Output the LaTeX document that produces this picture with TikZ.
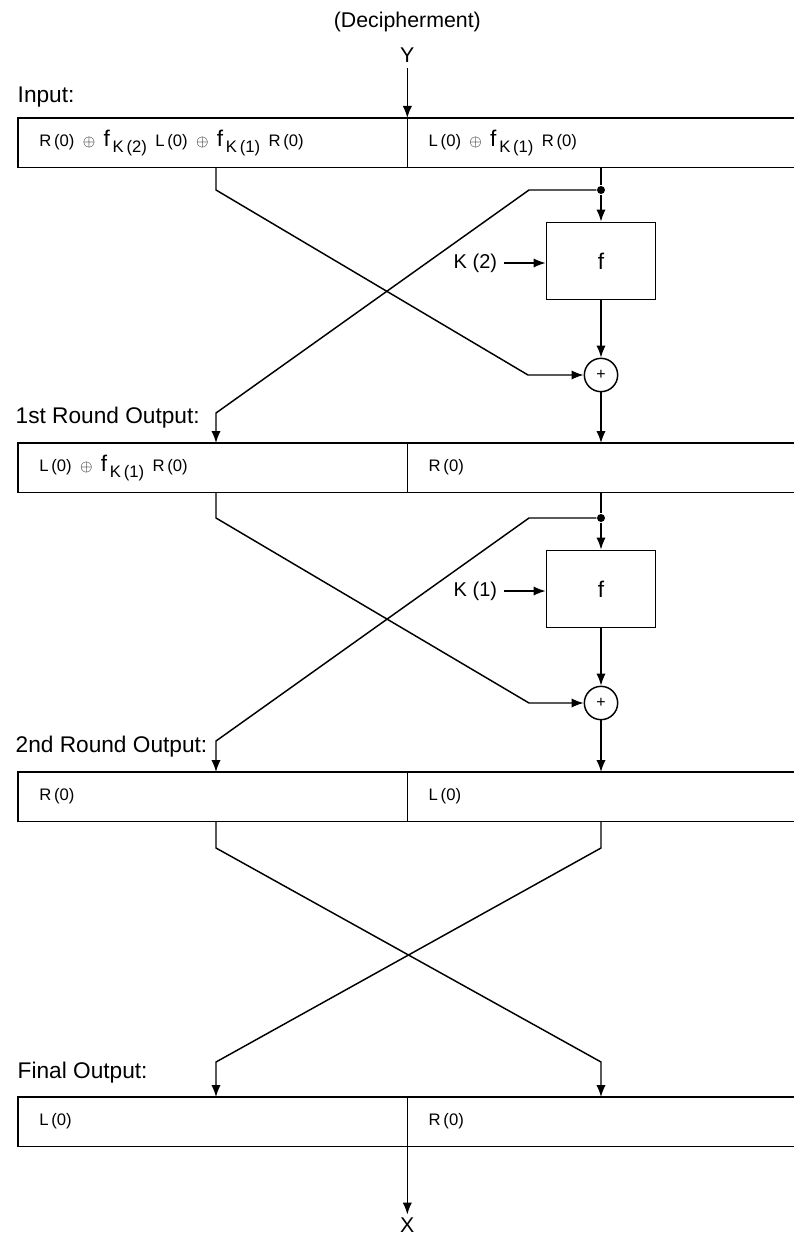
\documentclass[tikz,border=0pt]{standalone}
\usepackage{fontspec}
\setmainfont{Liberation Sans}
\usetikzlibrary{arrows.meta,calc}
\newcommand{\fk}[1]{{\fontsize{17}{17}\selectfont f}\,\raisebox{-4.5pt}{\fontsize{12.5}{13}\selectfont K\,(#1)}}
\newcommand{\xo}{\enspace$\oplus$\enspace}

\begin{document}
\begin{tikzpicture}[x=0.75pt,y=-0.75pt,>={Latex[length=9pt,width=7pt]},line width=1.1pt,
  half/.style={draw,anchor=north west,minimum height=37pt,inner xsep=16pt,outer sep=0pt,
    text width=#1,align=left,font=\fontsize{12.5}{14}\selectfont},
  half/.default=260pt,
  rlbl/.style={anchor=west,inner sep=0pt,font=\fontsize{17}{20}\selectfont},
  fbox/.style={draw,minimum width=82pt,minimum height=58pt,font=\fontsize{17}{20}\selectfont},
  xor/.style={draw,circle,minimum size=25pt,inner sep=0pt,font=\fontsize{12}{12}\selectfont},
  dot/.style={circle,fill,inner sep=0pt,minimum size=6pt},
  key/.style={anchor=west,inner sep=0pt,font=\fontsize{15}{18}\selectfont}]
  \useasboundingbox (0,0) rectangle (793,1241);
  \coordinate (cL) at (216,0);
  \coordinate (cR) at (601,0);
  % registers
  \node[half] (inL) at (18,118) {R\,(0)\xo\fk{2}\enspace L\,(0)\xo\fk{1}\enspace R\,(0)};
  \node[half=270pt] (inR) at (inL.north east) {L\,(0)\xo\fk{1}\enspace R\,(0)};
  \node[half] (r1L) at (18,443) {L\,(0)\xo\fk{1}\enspace R\,(0)};
  \node[half=270pt] (r1R) at (r1L.north east) {R\,(0)};
  \node[half] (r2L) at (18,772) {R\,(0)};
  \node[half=270pt] (r2R) at (r2L.north east) {L\,(0)};
  \node[half] (fnL) at (18,1097) {L\,(0)};
  \node[half=270pt] (fnR) at (fnL.north east) {R\,(0)};
  \node[rlbl] (lin) at (17,97) {Input:};
  \node[rlbl] (l1) at (15,418) {1st Round Output:};
  \node[rlbl] (l2) at (15,747) {2nd Round Output:};
  \node[rlbl] (l3) at (17,1073) {Final Output:};
  \node[font=\fontsize{16}{19}\selectfont] (Y) at ($(inL.north east)+(0,-63)$) {Y};
  \node[font=\fontsize{16}{19}\selectfont] (title) at ($(Y)+(0,-33)$) {(Decipherment)};
  \node[font=\fontsize{16}{19}\selectfont,inner sep=2pt] (X) at ($(fnL.south east)+(0,79)$) {X};
  \draw[->] (Y) -- (inL.north east);
  \draw[->] (fnL.south east) -- (X);
  % round 1
  \node[dot] (j1) at (601,190) {};
  \node[fbox] (f1) at (601,261) {f};
  \node[xor] (x1) at (601,375) {+};
  \node[key] (k1) at (453,263) {K (2)};
  \draw (inR.south -| cR) -- (j1);
  \draw[->] (j1) -- (f1);
  \draw[->] (f1) -- (x1);
  \draw[->] (x1) -- (x1 |- r1R.north);
  \draw[->,shorten <=5pt] (k1.east) -- (k1.east -| f1.west);
  \draw[->] (inL.south -| cL) -- (216,190) -- (528,375) -- (x1);
  \draw[->] (j1) -- (529,190) -- (216,413) -- (r1L.north -| cL);
  % round 2
  \node[dot] (j2) at (601,518) {};
  \node[fbox] (f2) at (601,589) {f};
  \node[xor] (x2) at (601,703) {+};
  \node[key] (k2) at (453,591) {K (1)};
  \draw (r1R.south -| cR) -- (j2);
  \draw[->] (j2) -- (f2);
  \draw[->] (f2) -- (x2);
  \draw[->] (x2) -- (x2 |- r2R.north);
  \draw[->,shorten <=5pt] (k2.east) -- (k2.east -| f2.west);
  \draw[->] (r1L.south -| cL) -- (216,518) -- (529,703) -- (x2);
  \draw[->] (j2) -- (529,518) -- (216,741) -- (r2L.north -| cL);
  % final swap
  \draw[->] (r2L.south -| cL) -- (216,848) -- (601,1062) -- (fnR.north -| cR);
  \draw[->] (r2R.south -| cR) -- (601,848) -- (216,1062) -- (fnL.north -| cL);
\end{tikzpicture}
\end{document}
